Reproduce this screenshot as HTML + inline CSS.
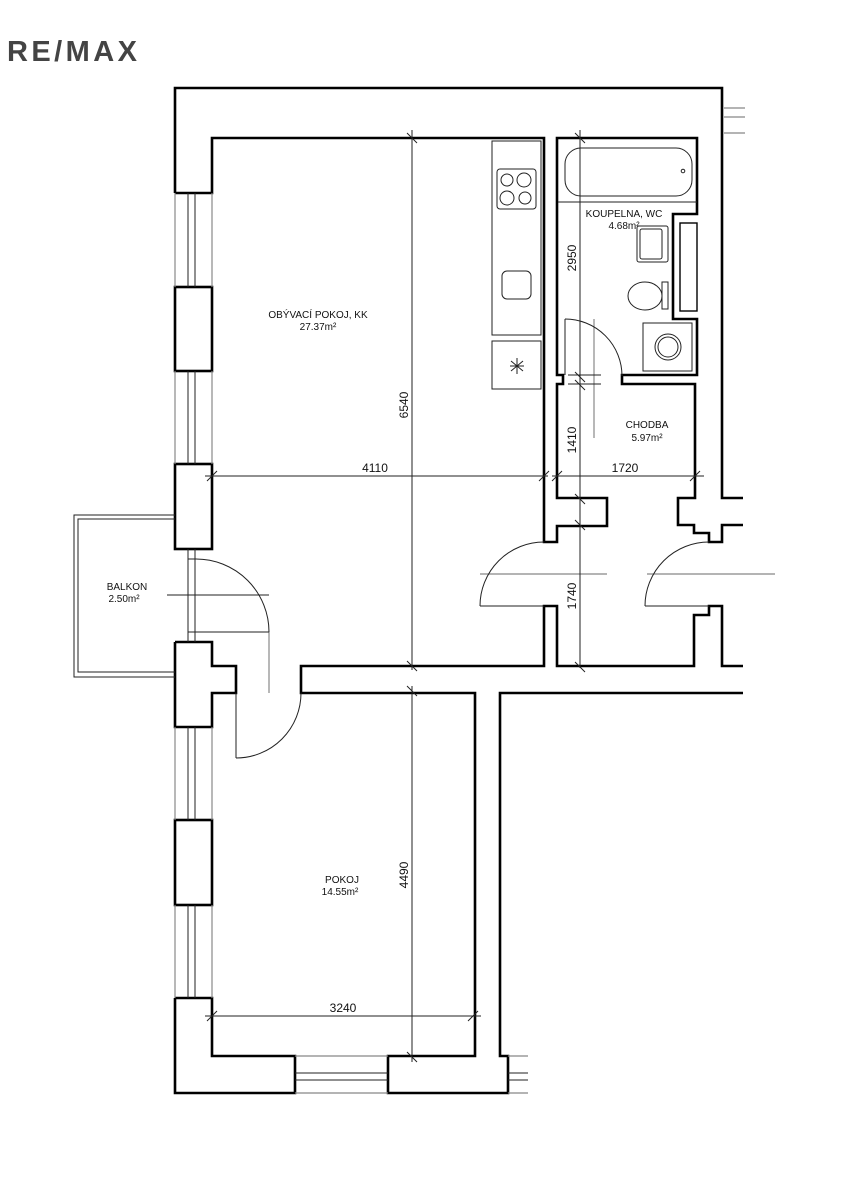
<!DOCTYPE html>
<html><head><meta charset="utf-8"><style>
html,body{margin:0;padding:0;background:#fff;}
svg{display:block;}
.w{fill:none;stroke:#000;stroke-width:2.6;stroke-linejoin:miter}
.t{fill:none;stroke:#222;stroke-width:1}
.g{fill:none;stroke:#888;stroke-width:1.2}
.f{fill:none;stroke:#000;stroke-width:1.4}
text{font-family:"Liberation Sans",sans-serif;fill:#111}
.lb{font-size:10px}
.dm{font-size:12px}
</style></head><body>
<svg width="847" height="1200" viewBox="0 0 847 1200" xmlns="http://www.w3.org/2000/svg">
<text x="7" y="61" textLength="130" lengthAdjust="spacing" style="font-size:29px;font-weight:bold;fill:#444">RE/MAX</text>

<polyline class="w" points="175,193 175,88 722,88 722,498 743,498"/>
<polyline class="w" points="175,193 212,193 212,138 544,138 544,542 557,542 557,526 607,526 607,498 557,498 557,384 563,384 563,375 557,375 557,138 697,138 697,214 673,214 673,319 697,319 697,375 622,375 622,384 695,384 695,498 678,498 678,525 694,525 694,533 709,533 709,542 722,542 722,525 743,525"/>
<polyline class="w" points="743,666 722,666 722,606 709,606 709,615 694,615 694,666 557,666 557,606 544,606 544,666 301,666 301,693 475,693 475,1056 388,1056 388,1093 508,1093 508,1056 500,1056 500,693 743,693"/>
<rect class="w" x="175" y="287" width="37" height="84"/>
<rect class="w" x="175" y="464" width="37" height="85"/>
<polyline class="w" points="175,642 212,642 212,666 236,666 236,693 212,693 212,727 175,727 175,642"/>
<rect class="w" x="175" y="820" width="37" height="85"/>
<polyline class="w" points="175,998 212,998 212,1056 295,1056 295,1093 175,1093 175,998"/>
<g class="t">
<line x1="188" y1="193" x2="188" y2="287"/><line x1="195" y1="193" x2="195" y2="287"/>
<line x1="188" y1="371" x2="188" y2="464"/><line x1="195" y1="371" x2="195" y2="464"/>
<line x1="188" y1="549" x2="188" y2="642"/><line x1="195" y1="549" x2="195" y2="642"/>
<line x1="188" y1="727" x2="188" y2="820"/><line x1="195" y1="727" x2="195" y2="820"/>
<line x1="188" y1="905" x2="188" y2="998"/><line x1="195" y1="905" x2="195" y2="998"/>
<line x1="295" y1="1073" x2="388" y2="1073"/><line x1="295" y1="1080" x2="388" y2="1080"/>
<line x1="508" y1="1073" x2="528" y2="1073"/><line x1="508" y1="1080" x2="528" y2="1080"/>
</g>
<g class="g">
<line x1="175" y1="193" x2="175" y2="287"/><line x1="212" y1="193" x2="212" y2="287"/>
<line x1="175" y1="371" x2="175" y2="464"/><line x1="212" y1="371" x2="212" y2="464"/>
<line x1="175" y1="727" x2="175" y2="820"/><line x1="212" y1="727" x2="212" y2="820"/>
<line x1="175" y1="905" x2="175" y2="998"/><line x1="212" y1="905" x2="212" y2="998"/>
<line x1="295" y1="1056" x2="388" y2="1056"/><line x1="295" y1="1093" x2="388" y2="1093"/>
<line x1="508" y1="1056" x2="528" y2="1056"/><line x1="508" y1="1093" x2="528" y2="1093"/>
<line x1="724" y1="108" x2="745" y2="108"/><line x1="724" y1="117" x2="745" y2="117"/><line x1="724" y1="133" x2="745" y2="133"/>
<line x1="480" y1="574" x2="607" y2="574"/><line x1="647" y1="574" x2="775" y2="574"/>
<line x1="594" y1="319" x2="594" y2="438"/>
<line x1="269" y1="632" x2="269" y2="693"/>
</g>
<polyline class="t" points="175,515 74,515 74,677 175,677"/>
<polyline class="t" points="175,519 78,519 78,672 175,672"/>
<line class="t" x1="167" y1="595" x2="269" y2="595"/>
<text class="lb" x="127" y="590" text-anchor="middle">BALKON</text>
<text class="lb" x="124" y="602" text-anchor="middle">2.50m²</text>
<g class="t">
<line x1="188" y1="559" x2="196" y2="559"/>
<path d="M196,559 A73,73 0 0 1 269,632"/>
<line x1="188" y1="632" x2="269" y2="632"/>
<line x1="236" y1="693" x2="236" y2="758"/>
<path d="M236,758 A65,65 0 0 0 301,693"/>
<path d="M544,542 A64,64 0 0 0 480,606"/><line x1="480" y1="606" x2="544" y2="606"/>
<path d="M709,542 A64,64 0 0 0 645,606"/><line x1="645" y1="606" x2="709" y2="606"/>
<line x1="565" y1="319" x2="565" y2="375"/>
<path d="M565,319 A57,57 0 0 1 622,376"/>
<line x1="568" y1="375" x2="601" y2="375"/><line x1="568" y1="384" x2="601" y2="384"/>
</g>
<g class="t">
<rect x="492" y="141" width="49" height="194"/>
<rect x="497" y="169" width="39" height="40" rx="3"/>
<circle cx="507" cy="180" r="6"/><circle cx="524" cy="180" r="7"/>
<circle cx="507" cy="198" r="7"/><circle cx="525" cy="198" r="6"/>
<rect x="502" y="271" width="29" height="28" rx="5"/>
<rect x="492" y="341" width="49" height="48"/>
<line x1="517" y1="358" x2="517" y2="374"/><line x1="510" y1="366" x2="524" y2="366"/>
<line x1="511" y1="361" x2="523" y2="371"/><line x1="511" y1="371" x2="523" y2="361"/>
</g>
<g class="t">
<line x1="558" y1="202" x2="697" y2="202"/>
<rect x="565" y="148" width="127" height="48" rx="16"/>
<circle cx="683" cy="171" r="1.8"/>
<rect x="637" y="226" width="31" height="36" rx="2"/>
<rect x="640" y="229" width="22" height="30" rx="2"/>
<ellipse cx="645" cy="296" rx="17" ry="14"/>
<rect x="662" y="282" width="6" height="27"/>
<rect x="680" y="223" width="17" height="88" class="f"/>
<rect x="643" y="323" width="49" height="48"/>
<circle cx="668" cy="347" r="13"/><circle cx="668" cy="347" r="10"/>
</g>
<g class="t">
<line x1="412" y1="130" x2="412" y2="670"/>
<line x1="407" y1="133" x2="417" y2="143"/><line x1="407" y1="661" x2="417" y2="671"/>
<line x1="412" y1="686" x2="412" y2="1062"/>
<line x1="407" y1="686" x2="417" y2="696"/><line x1="407" y1="1052" x2="417" y2="1062"/>
<line x1="205" y1="476" x2="548" y2="476"/>
<line x1="207" y1="481" x2="217" y2="471"/><line x1="539" y1="481" x2="549" y2="471"/>
<line x1="552" y1="476" x2="704" y2="476"/>
<line x1="552" y1="481" x2="562" y2="471"/><line x1="690" y1="481" x2="700" y2="471"/>
<line x1="580" y1="130" x2="580" y2="668"/>
<line x1="575" y1="133" x2="585" y2="143"/><line x1="575" y1="372" x2="585" y2="382"/><line x1="575" y1="380" x2="585" y2="390"/>
<line x1="575" y1="494" x2="585" y2="504"/><line x1="575" y1="520" x2="585" y2="530"/><line x1="575" y1="662" x2="585" y2="672"/>
<line x1="205" y1="1016" x2="481" y2="1016"/>
<line x1="207" y1="1021" x2="217" y2="1011"/><line x1="468" y1="1021" x2="478" y2="1011"/>
</g>
<g class="dm">
<text x="375" y="472" text-anchor="middle">4110</text>
<text x="625" y="472" text-anchor="middle">1720</text>
<text x="343" y="1012" text-anchor="middle">3240</text>
<text transform="translate(408,405) rotate(-90)" text-anchor="middle">6540</text>
<text transform="translate(408,875) rotate(-90)" text-anchor="middle">4490</text>
<text transform="translate(576,258) rotate(-90)" text-anchor="middle">2950</text>
<text transform="translate(576,440) rotate(-90)" text-anchor="middle">1410</text>
<text transform="translate(576,596) rotate(-90)" text-anchor="middle">1740</text>
</g>
<g class="lb">
<text x="318" y="318" text-anchor="middle">OBÝVACÍ POKOJ, KK</text>
<text x="318" y="330" text-anchor="middle">27.37m²</text>
<text x="624" y="217" text-anchor="middle">KOUPELNA, WC</text>
<text x="624" y="229" text-anchor="middle">4.68m²</text>
<text x="647" y="428" text-anchor="middle">CHODBA</text>
<text x="647" y="441" text-anchor="middle">5.97m²</text>
<text x="342" y="883" text-anchor="middle">POKOJ</text>
<text x="340" y="895" text-anchor="middle">14.55m²</text>
</g>
</svg>
</body></html>
